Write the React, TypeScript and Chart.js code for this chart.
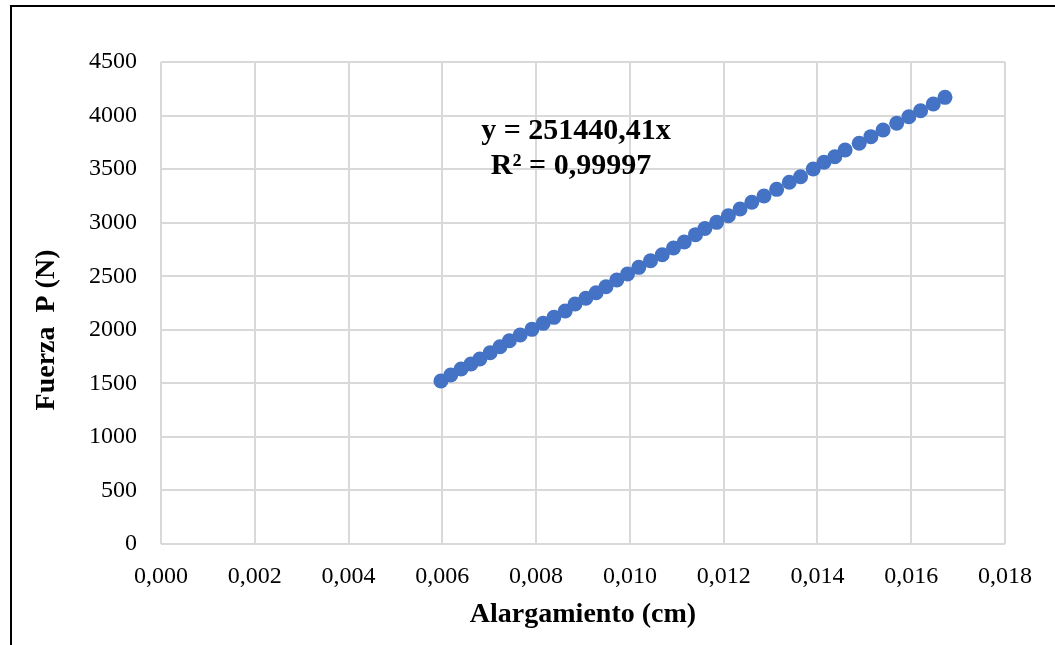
import React, { useEffect, useRef } from "react";
import { Chart, registerables } from "chart.js";

Chart.register(...registerables);

const elongation = [
  0.00597, 0.00618, 0.0064, 0.00661, 0.0068, 0.00702, 0.00723, 0.00743, 0.00766, 0.00791,
  0.00815, 0.00838, 0.00862, 0.00883, 0.00906, 0.00928, 0.00949, 0.00972, 0.00995, 0.01019,
  0.01044, 0.01069, 0.01093, 0.01116, 0.0114, 0.0116, 0.01185, 0.0121, 0.01235, 0.0126,
  0.01286, 0.01313, 0.0134, 0.01364, 0.01391, 0.01414, 0.01437, 0.01459, 0.01489, 0.01514,
  0.0154, 0.01569, 0.01595, 0.0162, 0.01647, 0.01672,
];
const force = [
  1522, 1578, 1634, 1680, 1727, 1786, 1842, 1898, 1951, 2004,
  2060, 2116, 2175, 2241, 2294, 2346, 2402, 2465, 2521, 2583,
  2645, 2701, 2763, 2819, 2888, 2946, 3003, 3065, 3128, 3190,
  3249, 3311, 3377, 3429, 3501, 3564, 3616, 3678, 3741, 3803,
  3865, 3928, 3989, 4045, 4108, 4170,
];
const xTicks = [0, 0.002, 0.004, 0.006, 0.008, 0.01, 0.012, 0.014, 0.016, 0.018];
const yTicks = [0, 500, 1000, 1500, 2000, 2500, 3000, 3500, 4000, 4500];
const xTitle = "Alargamiento (cm)";
const yTitle = "Fuerza  P (N)";
const eqLine1 = "y = 251440,41x";
const eqLine2 = "R² = 0,99997";

const SERIF = '"Liberation Serif", "Times New Roman", serif';

const textPlugin = {
  id: "textPlugin",
  afterDraw(chart: any) {
    const { ctx, chartArea } = chart;
    ctx.save();
    ctx.fillStyle = "#000";
    ctx.textAlign = "center";
    ctx.textBaseline = "middle";
    ctx.font = `bold 28px ${SERIF}`;
    ctx.fillText(xTitle, (chartArea.left + chartArea.right) / 2, 615);
    ctx.save();
    ctx.translate(47, 330);
    ctx.rotate(-Math.PI / 2);
    ctx.fillText(yTitle, 0, 0);
    ctx.restore();
    ctx.font = `bold 30px ${SERIF}`;
    ctx.fillText(eqLine1, 576, 131);
    ctx.fillText(eqLine2, 571, 166);
    ctx.restore();
  },
};

export default function App() {
  const ref = useRef<HTMLCanvasElement>(null);
  useEffect(() => {
    if (!ref.current) return;
    const chart = new Chart(ref.current, {
      type: "scatter",
      data: {
        datasets: [
          {
            data: elongation.map((x, i) => ({ x, y: force[i] })),
            backgroundColor: "#4472C4",
            borderColor: "#4472C4",
            borderWidth: 0,
            pointRadius: 7.5,
          },
        ],
      },
      options: {
        responsive: false,
        animation: false,
        layout: { padding: { left: 0, right: 50, top: 62, bottom: 0 } },
        plugins: { legend: { display: false }, tooltip: { enabled: false } },
        scales: {
          x: {
            type: "linear",
            min: 0,
            max: 0.018,
            afterBuildTicks: (axis: any) => {
              axis.ticks = xTicks.map((v) => ({ value: v }));
            },
            afterFit: (axis: any) => {
              axis.height = 101;
            },
            grid: { color: "#d9d9d9", lineWidth: 2, drawTicks: false },
            border: { display: false },
            ticks: {
              padding: 18,
              color: "#000",
              font: { family: SERIF, size: 24 },
              maxRotation: 0,
              callback: (v: any) => Number(v).toFixed(3).replace(".", ","),
            },
          },
          y: {
            type: "linear",
            min: 0,
            max: 4500,
            afterBuildTicks: (axis: any) => {
              axis.ticks = yTicks.map((v) => ({ value: v }));
            },
            afterFit: (axis: any) => {
              axis.width = 161;
            },
            grid: { color: "#d9d9d9", lineWidth: 2, drawTicks: false },
            border: { display: false },
            ticks: {
              padding: 24,
              color: "#000",
              font: { family: SERIF, size: 24 },
              callback: (v: any) => String(v),
            },
          },
        },
      },
      plugins: [textPlugin],
    });
    return () => chart.destroy();
  }, []);

  return (
    <div style={{ position: "absolute", left: 0, top: 0, width: 1055, height: 645, background: "#fff", overflow: "hidden" }}>
      <div
        style={{
          position: "absolute",
          left: 10,
          top: 5,
          width: 1100,
          height: 700,
          borderLeft: "2px solid #000",
          borderTop: "2px solid #000",
        }}
      />
      <canvas ref={ref} width={1055} height={645} style={{ position: "absolute", left: 0, top: 0 }} />
    </div>
  );
}
